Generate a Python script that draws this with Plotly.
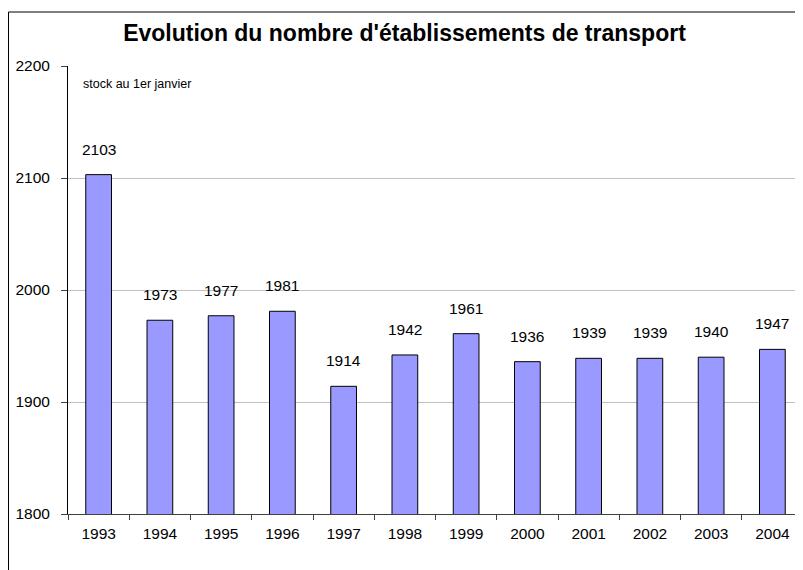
import plotly.graph_objects as go

years = ["1993", "1994", "1995", "1996", "1997", "1998", "1999", "2000", "2001", "2002", "2003", "2004"]
values = [2103, 1973, 1977, 1981, 1914, 1942, 1961, 1936, 1939, 1939, 1940, 1947]
title_text = "Evolution du nombre d'établissements de transport"
note_text = "stock au 1er janvier"

# the page body adds an 8px margin, so the figure is offset by 8px
W, H = 795, 562
ML, MR, MT, MB = 60, 0, 58, 56
pw = W - ML - MR
ph = H - MT - MB

FONT = "Liberation Sans, Arial"

fig = go.Figure()
fig.add_trace(go.Bar(
    x=years, y=values, width=0.42,
    marker=dict(color="#9999FF", line=dict(color="#000000", width=1)),
    hoverinfo="x+y",
))

for i, v in enumerate(values):
    fig.add_annotation(x=i, y=v, text=str(v), showarrow=False,
                       yanchor="bottom", yshift=15,
                       font=dict(family=FONT, size=15.5, color="#000"))

fig.add_annotation(xref="paper", yref="paper", x=(73 - ML) / pw, y=1 - (76 - MT) / ph,
                   text=note_text, showarrow=False, xanchor="left", yanchor="middle",
                   font=dict(family=FONT, size=12.5, color="#000"))

# outer frame (right and bottom edges fall outside the visible window)
fig.add_shape(type="rect", xref="paper", yref="paper",
              x0=(0.5 - ML) / pw, x1=(W + 60 - ML) / pw,
              y0=-(H + 60 - MT - ph) / ph, y1=1 + (MT - 4) / ph,
              line=dict(color="#000", width=1), fillcolor="rgba(0,0,0,0)", layer="below")

fig.update_layout(
    width=W, height=H,
    margin=dict(l=ML, r=MR, t=MT, b=MB),
    paper_bgcolor="white", plot_bgcolor="white",
    showlegend=False,
    title=dict(text="<b>" + title_text + "</b>", x=396.5 / W, xanchor="center",
               y=1 - 25 / H, yanchor="middle",
               font=dict(family=FONT, size=23, color="#000")),
    font=dict(family=FONT, size=15.5, color="#000"),
)
fig.update_xaxes(type="category", range=[-0.5, len(years) - 0.5], autorange=False,
                 showline=True, linecolor="#404040", linewidth=1,
                 ticks="outside", tickson="boundaries", ticklen=5, tickcolor="#404040",
                 showgrid=False, tickfont=dict(size=15.5), tickangle=0,
                 ticklabelstandoff=5, fixedrange=True)
fig.update_yaxes(range=[1800, 2200], dtick=100, showline=True, linecolor="#000", linewidth=1,
                 ticks="outside", ticklen=6, tickcolor="#404040",
                 showgrid=True, gridcolor="#C0C0C0", gridwidth=1,
                 zeroline=False, tickfont=dict(size=15.5), ticklabelstandoff=8)

fig.write_html("out.html")
